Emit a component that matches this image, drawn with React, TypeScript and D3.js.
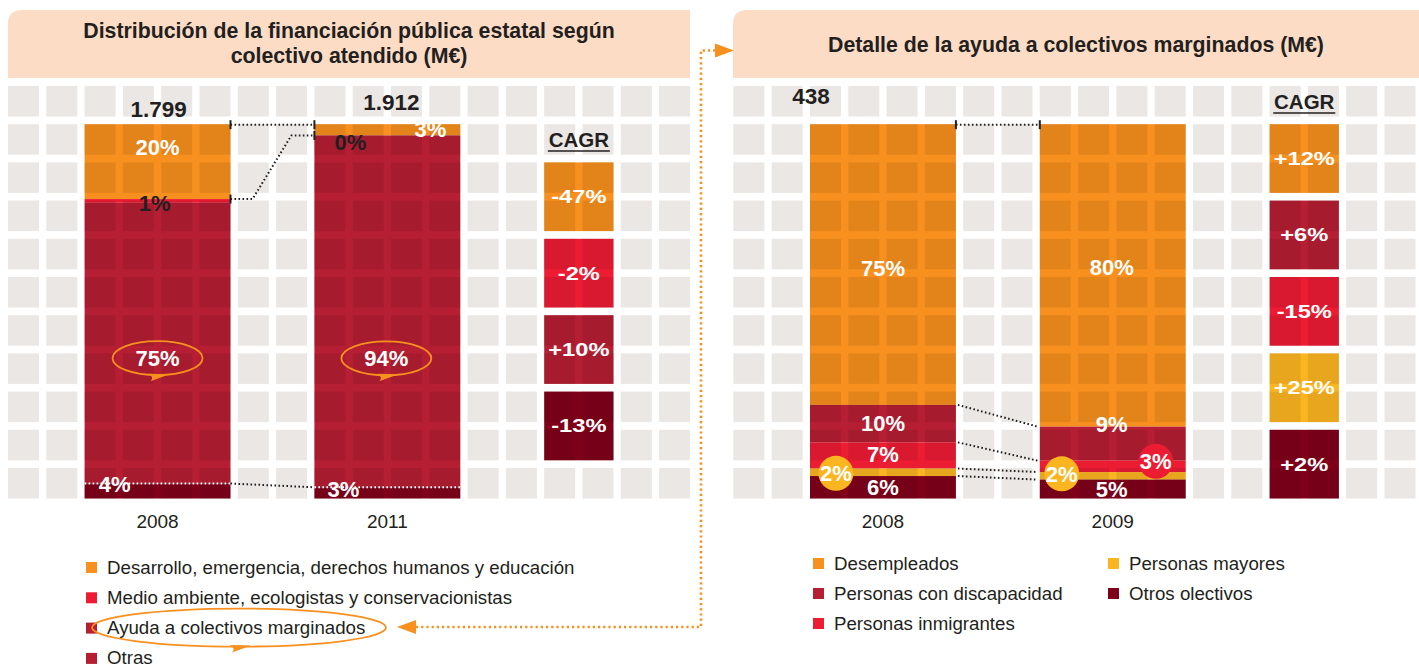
import React from "react";
import * as d3 from "d3";

// ---------------- DATA ----------------
const leftTitle = ["Distribución de la financiación pública estatal según", "colectivo atendido (M€)"];
const leftYears = ["2008", "2011"];
const leftCategories = [
  "Desarrollo, emergencia, derechos humanos y educación",
  "Medio ambiente, ecologistas y conservacionistas",
  "Ayuda a colectivos marginados",
  "Otras",
];
const leftShares2008 = [20, 1, 75, 4];
const leftShares2011 = [3, 0, 94, 3];
const leftTotals = ["1.799", "1.912"];
const leftCagr = ["-47%", "-2%", "+10%", "-13%"];

const rightTitle = ["Detalle de la ayuda a colectivos marginados (M€)"];
const rightYears = ["2008", "2009"];
const rightCategories = [
  "Desempleados",
  "Personas con discapacidad",
  "Personas inmigrantes",
  "Personas mayores",
  "Otros olectivos",
];
const rightShares2008 = [75, 10, 7, 2, 6];
const rightShares2009 = [80, 9, 3, 2, 5];
const rightTotals = ["438", ""];
const rightCagr = ["+12%", "+6%", "-15%", "+25%", "+2%"];

// ---------------- STYLE ----------------
const W = 1419;
const H = 668;
const FONT = "'Liberation Sans', Arial, Helvetica, sans-serif";
const DARK = "#231f20";
const TILE = "#ebe7e4";
const PEACH = "#fcdcc5";
const ORANGE = "#f7901e";
const RED = "#ec1c33";
const CRIMSON = "#b61e33";
const YELLOW = "#fbb521";
const MAROON = "#80001a";

const GRID = { cols: 18, rows: 11, pitchX: 38.3, pitchY: 38.2, tileW: 31, tileH: 30.5, top: 86 };

type LabelLayout = { dx: number; dy: number; fill?: string; circle?: string; loop?: boolean };

const leftConfig = {
  x0: 8,
  header: [8, 690],
  titleBaselines: [38, 63],
  title: leftTitle,
  years: leftYears,
  categories: leftCategories,
  shares: [leftShares2008, leftShares2011],
  totals: leftTotals,
  cagr: leftCagr,
  barColors: [ORANGE, RED, CRIMSON, MAROON],
  legendColors: [ORANGE, RED, CRIMSON, CRIMSON],
  barCols: [2, 8],
  cagrCol: 14,
  cagrRow0: 2,
  cagrHeadBaseline: 147,
  totalPos: [
    { dx: 1, base: 117 },
    { dx: 4, base: 110 },
  ],
  labels: [
    [
      { dx: 0, dy: -15 },
      { dx: -3, dy: 2, fill: DARK },
      { dx: 0, dy: 15, loop: true },
      { dx: -43, dy: -7 },
    ],
    [
      { dx: 43, dy: -1 },
      { dx: -37, dy: 7, fill: DARK },
      { dx: -1, dy: 47, loop: true },
      { dx: -44, dy: -4 },
    ],
  ] as LabelLayout[][],
  stepBoundaries: [1],
  throughBoundaries: [3],
  straightBoundaries: [] as number[],
  legend: { cols: [[0, 1, 2, 3]], x: [86], top: 562, step: 30.3 },
  legendLoop: 2,
};

const rightConfig = {
  x0: 733.4,
  header: [733, 1419],
  titleBaselines: [52],
  title: rightTitle,
  years: rightYears,
  categories: rightCategories,
  shares: [rightShares2008, rightShares2009],
  totals: rightTotals,
  cagr: rightCagr,
  barColors: [ORANGE, CRIMSON, RED, YELLOW, MAROON],
  legendColors: [ORANGE, CRIMSON, RED, YELLOW, MAROON],
  barCols: [2, 8],
  cagrCol: 14,
  cagrRow0: 1,
  cagrHeadBaseline: 109,
  totalPos: [
    { dx: -72, base: 104 },
    { dx: 0, base: 104 },
  ],
  labels: [
    [
      { dx: 0, dy: 3 },
      { dx: 0, dy: -1 },
      { dx: 0, dy: -1 },
      { dx: -47, dy: 1, circle: YELLOW },
      { dx: 0, dy: 0 },
    ],
    [
      { dx: -1, dy: -8 },
      { dx: -1, dy: -20 },
      { dx: 43, dy: -5, circle: RED },
      { dx: -51, dy: -2, circle: YELLOW },
      { dx: -1, dy: 0 },
    ],
  ] as LabelLayout[][],
  stepBoundaries: [] as number[],
  throughBoundaries: [] as number[],
  straightBoundaries: [1, 2, 3, 4],
  legend: { cols: [[0, 1, 2], [3, 4]], x: [813, 1108], top: 558, step: 30 },
  legendLoop: -1,
};

type Cfg = typeof leftConfig;

function Loop({ cx, cy, rx, ry }: { cx: number; cy: number; rx: number; ry: number }) {
  const p = d3.path();
  p.moveTo(cx - 9, cy + ry - 1.5);
  p.quadraticCurveTo(cx - 3, cy + ry + 2, cx - 7, cy + ry + 6);
  p.lineTo(cx + 12, cy + ry - 1);
  p.closePath();
  return (
    <g>
      <ellipse cx={cx} cy={cy} rx={rx} ry={ry} fill="none" stroke={ORANGE} strokeWidth={1.8} />
      <path d={p.toString()} fill={ORANGE} />
    </g>
  );
}

function Panel({ cfg }: { cfg: Cfg }) {
  const col = d3.scaleLinear().domain([0, GRID.cols]).range([cfg.x0, cfg.x0 + GRID.cols * GRID.pitchX]);
  const row = d3.scaleLinear().domain([0, GRID.rows]).range([GRID.top, GRID.top + GRID.rows * GRID.pitchY]);
  const barW = 3 * GRID.pitchX + GRID.tileW;
  const barTop = row(1);
  const barBottom = row(GRID.rows - 1) + GRID.tileH;
  const y = d3.scaleLinear().domain([0, 1]).range([barTop, barBottom]);

  const keys = cfg.categories.map((_, i) => String(i));
  const table = cfg.years.map((yr, j) => {
    const o: Record<string, number | string> = { year: yr };
    cfg.shares[j].forEach((v, i) => (o[String(i)] = v));
    return o;
  });
  const series = d3
    .stack<Record<string, number | string>>()
    .keys(keys)
    .value((d, k) => d[k] as number)
    .offset(d3.stackOffsetExpand)(table);

  const bx = (j: number) => col(cfg.barCols[j]);
  const bxc = (j: number) => bx(j) + barW / 2;

  const tiles: JSX.Element[] = [];
  for (let c = 0; c < GRID.cols; c++)
    for (let r = 0; r < GRID.rows; r++)
      tiles.push(
        <rect key={`t${c}-${r}`} x={col(c)} y={row(r)} width={GRID.tileW} height={GRID.tileH} fill={TILE} />
      );

  const shade: JSX.Element[] = [];
  cfg.barCols.forEach((c0, j) => {
    for (let c = c0; c < c0 + 4; c++)
      for (let r = 1; r < GRID.rows; r++)
        shade.push(
          <rect key={`s${j}-${c}-${r}`} x={col(c)} y={row(r)} width={GRID.tileW} height={GRID.tileH} fill="#000" opacity={0.08} />
        );
  });

  const cagrW = GRID.pitchX + GRID.tileW;
  const cagrH = GRID.pitchY + GRID.tileH;

  const x1R = bx(0) + barW;
  const x2L = bx(1);
  const dotted = { stroke: DARK, strokeWidth: 2, strokeDasharray: "1.6 2.4", fill: "none" } as const;
  const tick = (x: number, yy: number, k: string) => (
    <line key={k} x1={x} x2={x} y1={yy - 4.5} y2={yy + 4.5} stroke={DARK} strokeWidth={2} />
  );

  return (
    <g>
      {/* header */}
      <path
        d={`M${cfg.header[0]},78 V24 Q${cfg.header[0]},10 ${cfg.header[0] + 14},10 H${cfg.header[1]} V78 Z`}
        fill={PEACH}
      />
      {cfg.title.map((t, i) => (
        <text
          key={t}
          x={(cfg.header[0] + cfg.header[1]) / 2}
          y={cfg.titleBaselines[i]}
          textAnchor="middle"
          fontFamily={FONT}
          fontWeight="bold"
          fontSize={21.3}
          fill={DARK}
        >
          {t}
        </text>
      ))}
      {tiles}

      {/* bars */}
      {series.map((s, i) =>
        s.map((d, j) => (
          <rect
            key={`b${i}-${j}`}
            x={bx(j)}
            y={y(d[0])}
            width={barW}
            height={Math.max(0, y(d[1]) - y(d[0]))}
            fill={cfg.barColors[i]}
          />
        ))
      )}
      {shade}

      {/* CAGR */}
      <text
        x={col(cfg.cagrCol) + cagrW / 2}
        y={cfg.cagrHeadBaseline}
        textAnchor="middle"
        fontFamily={FONT}
        fontWeight="bold"
        fontSize={20.5}
        fill={DARK}
      >
        CAGR
      </text>
      <line
        x1={col(cfg.cagrCol) + cagrW / 2 - 31}
        x2={col(cfg.cagrCol) + cagrW / 2 + 31}
        y1={cfg.cagrHeadBaseline + 4}
        y2={cfg.cagrHeadBaseline + 4}
        stroke={DARK}
        strokeWidth={1.6}
      />
      {cfg.cagr.map((v, i) => {
        const r0 = cfg.cagrRow0 + 2 * i;
        const x = col(cfg.cagrCol);
        const yy = row(r0);
        return (
          <g key={`c${i}`}>
            <rect x={x} y={yy} width={cagrW} height={cagrH} fill={cfg.barColors[i]} />
            {[0, 1].map((dc) =>
              [0, 1].map((dr) => (
                <rect
                  key={`${dc}${dr}`}
                  x={col(cfg.cagrCol + dc)}
                  y={row(r0 + dr)}
                  width={GRID.tileW}
                  height={GRID.tileH}
                  fill="#000"
                  opacity={0.08}
                />
              ))
            )}
            <text
              transform={`translate(${x + cagrW / 2},${yy + cagrH / 2 + 6.5}) scale(1.28,1)`}
              textAnchor="middle"
              fontFamily={FONT}
              fontWeight="bold"
              fontSize={18.5}
              fill="#fff"
            >
              {v}
            </text>
          </g>
        );
      })}

      {/* connectors */}
      <line x1={x1R} x2={x2L} y1={barTop + 0.5} y2={barTop + 0.5} {...dotted} />
      {tick(x1R, barTop + 0.5, "tk1")}
      {tick(x2L, barTop + 0.5, "tk2")}
      {cfg.stepBoundaries.map((b) => {
        const ya = y(series[b][0][0]);
        const yb = y(series[b][1][0]);
        return (
          <g key={`st${b}`}>
            <polyline points={`${x1R},${ya} ${x1R + 22},${ya} ${x2L - 23},${yb} ${x2L},${yb}`} {...dotted} />
            {tick(x1R, ya, "a")}
            {tick(x2L, yb, "b")}
          </g>
        );
      })}
      {cfg.throughBoundaries.map((b) => {
        const ya = y(series[b][0][0]);
        const yb = y(series[b][1][0]);
        return (
          <g key={`th${b}`}>
            <line x1={bx(0)} x2={x1R} y1={ya} y2={ya} {...dotted} stroke="#fff" />
            <line x1={x1R} x2={x2L} y1={ya} y2={yb} {...dotted} />
            <line x1={x2L} x2={x2L + barW} y1={yb} y2={yb} {...dotted} stroke="#fff" />
          </g>
        );
      })}
      {cfg.straightBoundaries.map((b) => {
        const ya = y(series[b][0][0]);
        const yb = y(series[b][1][0]);
        return <line key={`sb${b}`} x1={x1R + 2} x2={x2L - 2} y1={ya} y2={yb} {...dotted} />;
      })}

      {/* segment labels */}
      {series.map((s, i) =>
        s.map((d, j) => {
          const lay = cfg.labels[j][i];
          const cx = bxc(j) + lay.dx;
          const cy = (y(d[0]) + y(d[1])) / 2 + lay.dy;
          return (
            <g key={`l${i}-${j}`}>
              {lay.circle && <circle cx={cx} cy={cy} r={17.5} fill={lay.circle} />}
              {lay.loop && <Loop cx={cx} cy={cy} rx={45} ry={17} />}
              <text
                x={cx}
                y={cy + 8}
                textAnchor="middle"
                fontFamily={FONT}
                fontWeight="bold"
                fontSize={22}
                fill={lay.fill || "#fff"}
              >
                {cfg.shares[j][i]}%
              </text>
            </g>
          );
        })
      )}

      {/* totals */}
      {cfg.totals.map((t, j) =>
        t ? (
          <text
            key={`tot${j}`}
            x={bxc(j) + cfg.totalPos[j].dx}
            y={cfg.totalPos[j].base}
            textAnchor="middle"
            fontFamily={FONT}
            fontWeight="bold"
            fontSize={22.5}
            fill={DARK}
          >
            {t}
          </text>
        ) : null
      )}

      {/* x labels */}
      {cfg.years.map((yr, j) => (
        <text key={yr} x={bxc(j)} y={528} textAnchor="middle" fontFamily={FONT} fontSize={19} fill={DARK}>
          {yr}
        </text>
      ))}

      {/* legend */}
      {cfg.legend.cols.map((items, ci) =>
        items.map((idx, ri) => {
          const lx = cfg.legend.x[ci];
          const ly = cfg.legend.top + ri * cfg.legend.step;
          return (
            <g key={`lg${idx}`}>
              <rect x={lx} y={ly} width={11} height={11} fill={cfg.legendColors[idx]} />
              <text x={lx + 21} y={ly + 11.5} fontFamily={FONT} fontSize={18.7} fill={DARK}>
                {cfg.categories[idx]}
              </text>
              {cfg.legendLoop === idx && <Loop cx={lx + 153} cy={ly + 5} rx={147} ry={19} />}
            </g>
          );
        })
      )}
    </g>
  );
}

export default function App() {
  const link = d3.path();
  link.moveTo(416, 627);
  link.lineTo(701, 627);
  link.lineTo(701, 50.5);
  link.lineTo(716, 50.5);
  return (
    <svg
      width={W}
      height={H}
      viewBox={`0 0 ${W} ${H}`}
      style={{ position: "absolute", left: 0, top: 0, background: "#fff" }}
    >
      <rect width={W} height={H} fill="#fff" />
      <Panel cfg={leftConfig} />
      <Panel cfg={rightConfig as unknown as Cfg} />
      <path d={link.toString()} fill="none" stroke={ORANGE} strokeWidth={2.6} strokeDasharray="2.2 3" />
      <path d="M715,43.5 L734,50.5 L715,57.5 Z" fill={ORANGE} />
      <path d="M416,620 L397,627 L416,634 Z" fill={ORANGE} />
    </svg>
  );
}
